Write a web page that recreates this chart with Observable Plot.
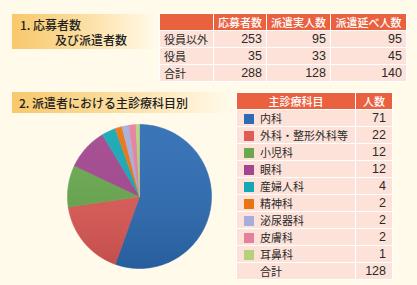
<!DOCTYPE html>
<html><head><meta charset="utf-8">
<script src="https://cdn.jsdelivr.net/npm/d3@7"></script>
<script src="https://cdn.jsdelivr.net/npm/@observablehq/plot@0.6"></script>
<style>
html,body{margin:0;padding:0;}
body{width:417px;height:285px;background:#fffaea;position:relative;overflow:hidden;font-family:"Noto Sans CJK JP","Noto Sans",sans-serif;color:#2a2a2a;}
.hdr{position:absolute;background:linear-gradient(to right,#f8c86c 0%,#fbdc9c 45%,#fff0cf 80%,#fffaea 100%);font-size:12px;font-weight:500;color:#1e1e1e;}
table{position:absolute;border-collapse:collapse;font-size:11px;table-layout:fixed;}
td,th{border:1px solid #ffffff;padding:0 4px;white-space:nowrap;overflow:hidden;}
th{background:#e9613f;color:#fff;font-weight:500;text-align:center;}
td{background:#fde2d9;}
td.num{text-align:right;font-family:"Liberation Sans",Arial,sans-serif;font-size:12.5px;padding-right:4px;}
#t2 td.num{padding-right:6px;}
.sw{display:inline-block;width:10px;height:10px;vertical-align:-1px;margin-right:6px;}
#pie{position:absolute;left:66px;top:123px;}
</style></head>
<body>
<div class="hdr" style="left:12px;top:14px;width:146px;height:35px;">
  <div style="position:absolute;left:8px;top:2px;">1. 応募者数</div>
  <div style="position:absolute;left:43px;top:17px;">及び派遣者数</div>
</div>
<div class="hdr" style="left:12px;top:92px;width:220px;height:21px;">
  <div style="position:absolute;left:7px;top:2px;">2. 派遣者における主診療科目別</div>
</div>
<table id="t1" style="left:159px;top:13px;"></table>
<table id="t2" style="left:236px;top:92px;"></table>
<div id="pie"></div>
<script>
const table1Columns = ["応募者数", "派遣実人数", "派遣延べ人数"];
const table1Rows = ["役員以外", "役員", "合計"];
const applicants = [253, 35, 288];
const dispatchedActual = [95, 33, 128];
const dispatchedTotal = [95, 45, 140];

const table2Columns = ["主診療科目", "人数"];
const specialties = ["内科", "外科・整形外科等", "小児科", "眼科", "産婦人科", "精神科", "泌尿器科", "皮膚科", "耳鼻科"];
const counts = [71, 22, 12, 12, 4, 2, 2, 2, 1];
const colors = ["#2d6cb4", "#e05a56", "#68a94e", "#a3468f", "#14a8b5", "#e87511", "#a8aedb", "#e5809f", "#b5d27b"];
const totalLabel = "合計";

// Table 1
const t1 = d3.select("#t1");
const cw1 = [54, 53, 64, 76];
const cg1 = t1.append("colgroup");
cw1.forEach(w => cg1.append("col").style("width", w + "px"));
const h1 = t1.append("tr").style("height", "16px");
h1.append("th");
table1Columns.forEach(c => h1.append("th").text(c));
table1Rows.forEach((r, i) => {
  const tr = t1.append("tr").style("height", "16.7px");
  tr.append("td").text(r);
  [applicants, dispatchedActual, dispatchedTotal].forEach(arr => tr.append("td").attr("class", "num").text(arr[i]));
});

// Table 2
const t2 = d3.select("#t2");
const cg2 = t2.append("colgroup");
[119, 37].forEach(w => cg2.append("col").style("width", w + "px"));
const h2 = t2.append("tr").style("height", "16px");
table2Columns.forEach(c => h2.append("th").text(c));
specialties.forEach((s, i) => {
  const tr = t2.append("tr").style("height", "16.5px");
  const td = tr.append("td").style("padding-left", "7px");
  td.append("span").attr("class", "sw").style("background", colors[i]);
  td.append("span").text(s);
  tr.append("td").attr("class", "num").text(counts[i]);
});
const trt = t2.append("tr").style("height", "16.5px");
trt.append("td").style("padding-left", "23px").text(totalLabel);
trt.append("td").attr("class", "num").text(d3.sum(counts));

// Pie
const arcs = d3.pie().sort(null)(counts);
const pts = [];
arcs.forEach((a, i) => {
  const key = specialties[i];
  pts.push({key, x: 0, y: 0});
  const n = Math.max(2, Math.ceil((a.endAngle - a.startAngle) / (Math.PI / 180)));
  for (let k = 0; k <= n; k++) {
    const t = a.startAngle + (a.endAngle - a.startAngle) * k / n;
    pts.push({key, x: Math.sin(t), y: Math.cos(t)});
  }
  pts.push({key, x: 0, y: 0});
});
const chart = Plot.plot({
  width: 146, height: 146, margin: 1,
  x: {domain: [-1, 1], axis: null},
  y: {domain: [-1, 1], axis: null},
  color: {domain: specialties, range: colors},
  marks: [
    Plot.line(pts, {x: "x", y: "y", z: "key", fill: "key", stroke: "key", strokeWidth: 0.6, curve: "linear"}),
    Plot.line(pts, {x: "x", y: "y", z: "key", fill: "url(#pieShade)", stroke: "none", curve: "linear"})
  ],
  style: {background: "transparent", overflow: "visible"}
});
const svg = d3.select(chart);
const defs = svg.insert("defs", ":first-child");
const g = defs.append("linearGradient").attr("id", "pieShade").attr("gradientUnits", "userSpaceOnUse")
  .attr("x1", 0).attr("y1", 0).attr("x2", 0).attr("y2", 146);
g.append("stop").attr("offset", "0%").attr("stop-color", "#ffffff").attr("stop-opacity", 0.06);
g.append("stop").attr("offset", "100%").attr("stop-color", "#000000").attr("stop-opacity", 0.14);
document.getElementById("pie").appendChild(chart);
</script>
</body></html>
